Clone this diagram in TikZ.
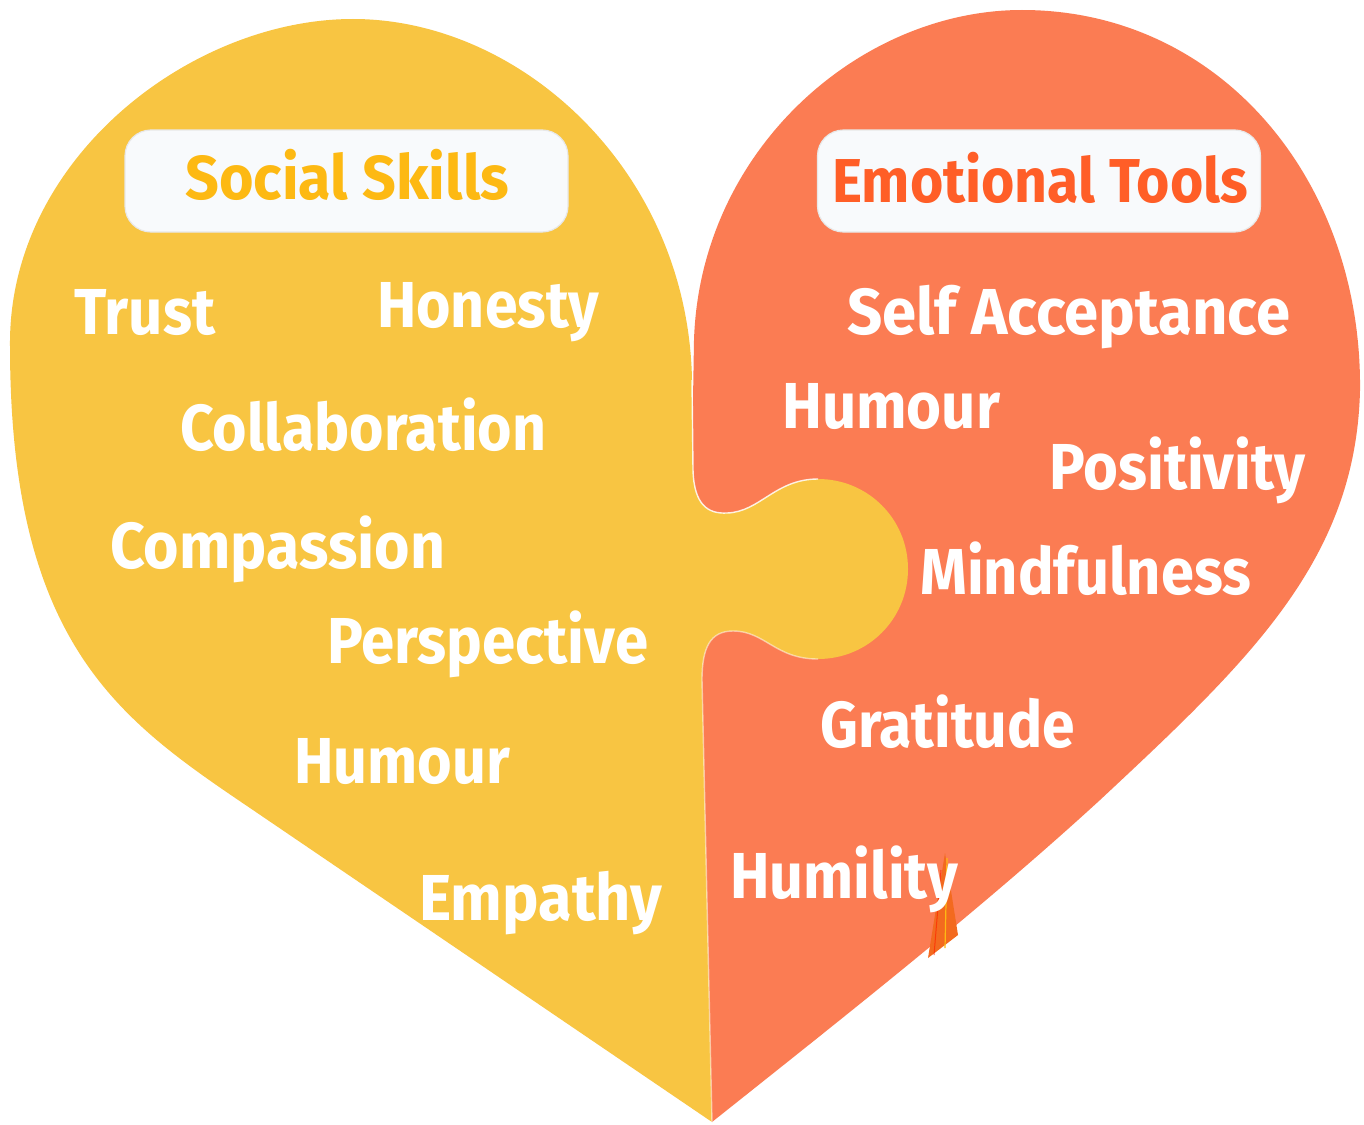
\documentclass[tikz,border=0pt]{standalone}
\usepackage{fontspec}
\setmainfont{Fira Sans}
\usepackage{graphicx}
\definecolor{yel}{HTML}{F8C542}
\definecolor{org}{HTML}{FB7C53}
\definecolor{ssyel}{HTML}{FDB913}
\definecolor{etorg}{HTML}{FF5E27}
\definecolor{boxfill}{HTML}{F8FAFC}
\definecolor{glitchA}{HTML}{F36A1F}
\newlength\fitlen
\newcommand\fitto[2]{\settowidth\fitlen{#2}\pgfmathsetmacro\fitsx{#1/\fitlen}\scalebox{\fitsx}[1]{#2}}
\tikzset{
  word/.style={anchor=base west, inner sep=0pt, text=white, font=\fontsize{65}{70}\selectfont\bfseries},
  ttl/.style={anchor=base west, inner sep=0pt, font=\fontsize{62}{66}\selectfont\bfseries},
  titlebox/.style={draw=black!9, line width=1.2pt, fill=boxfill, rounded corners=26pt, minimum width=443pt, minimum height=102pt, inner sep=0pt},
  seam/.style={white, line width=1.4pt, opacity=0.85},
}
\begin{document}
\begin{tikzpicture}[x=1pt,y=-1pt]
\useasboundingbox (0,0) rectangle (1364,1124);
\fill[white] (0,0) rectangle (1364,1124);
% orange piece (right)
\fill[org] (712,1122)
 .. controls (840,1020) and (980,910) .. (1100,800)
 .. controls (1250,660) and (1356,560) .. (1360,390)
 .. controls (1362,180) and (1220,10) .. (1022,10)
 .. controls (860,10) and (700,150) .. (694,340)
 -- (688,700) -- cycle;
% glitch artefact
\fill[glitchA] (945,853) -- (958,935) -- (928,958) -- cycle;
\draw[ssyel, line width=1.2pt] (947,858) -- (945,948);
\draw[red!70!orange, line width=1pt, opacity=0.7] (941,870) -- (934,955);
% yellow piece (left)
\fill[yel] (712,1122) -- (250,808)
 .. controls (120,720) and (10,645) .. (10,346)
 .. controls (8,160) and (190,19) .. (353,19)
 .. controls (520,19) and (688,170) .. (692,380)
 -- (693,470)
 .. controls (694,505) and (708,514) .. (727,513)
 .. controls (760,512) and (775,479) .. (818,479)
 .. controls (868,479) and (908,519) .. (908,569)
 .. controls (908,619) and (868,659) .. (818,659)
 .. controls (775,659) and (765,631) .. (733,631)
 .. controls (710,631) and (702,648) .. (702,680)
 -- cycle;
\draw[seam] (692,380) -- (693,470)
 .. controls (694,505) and (708,514) .. (727,513)
 .. controls (760,512) and (775,479) .. (818,479);
\draw[seam, opacity=0.5] (818,659)
 .. controls (775,659) and (765,631) .. (733,631)
 .. controls (710,631) and (702,648) .. (702,680) -- (712,1122);
% title boxes
\node[titlebox] (ssbox) at (346.5,181) {};
\node[titlebox] (etbox) at (1039,181) {};
\node[ttl, text=ssyel] (ss) at (185,199) {\fitto{324}{Social Skills}};
\node[ttl, text=etorg] (et) at (832,202) {\fitto{416}{Emotional Tools}};
% left words
\node[word] (trust) at (74,334) {\fitto{141}{Trust}};
\node[word] (honesty) at (377,327) {\fitto{222}{Honesty}};
\node[word] (collab) at (180,450) {\fitto{366}{Collaboration}};
\node[word] (compassion) at (110,568) {\fitto{335}{Compassion}};
\node[word] (perspective) at (327,663) {\fitto{321}{Perspective}};
\node[word] (humourl) at (294,783) {\fitto{216}{Humour}};
\node[word] (empathy) at (419,920) {\fitto{243}{Empathy}};
% right words
\node[word] (selfacc) at (847,334) {\fitto{443}{Self Acceptance}};
\node[word] (humourr) at (782,428) {\fitto{218}{Humour}};
\node[word] (positivity) at (1049,489) {\fitto{256}{Positivity}};
\node[word] (mindful) at (920,594) {\fitto{331}{Mindfulness}};
\node[word] (gratitude) at (820,747) {\fitto{255}{Gratitude}};
\node[word] (humility) at (730,898) {\fitto{228}{Humility}};
\end{tikzpicture}
\end{document}
